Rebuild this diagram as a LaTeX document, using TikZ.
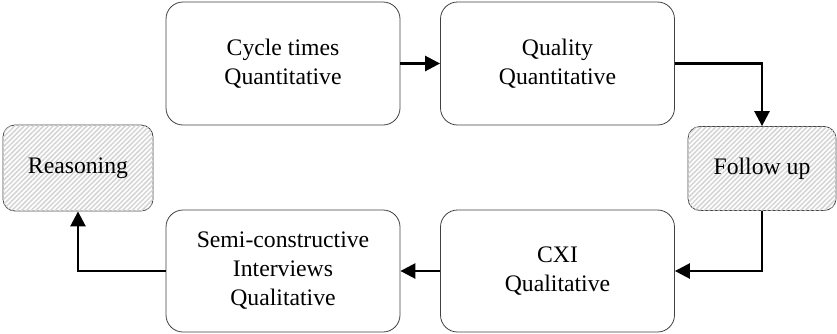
\documentclass[tikz,border=0pt]{standalone}
\usepackage{fontspec}
\setmainfont{Liberation Serif}
\usetikzlibrary{arrows.meta,patterns.meta}
\begin{document}
\begin{tikzpicture}[x=1pt,y=-1pt,
  stage/.style={draw=black!75, line width=0.8pt, rounded corners=17pt,
    minimum width=234pt, minimum height=123pt, inner sep=0pt,
    align=center, font=\fontsize{23.7}{29}\selectfont},
  hatchbox/.style={draw=black!75, line width=0.8pt, rounded corners=12pt,
    fill=white,
    postaction={pattern={Lines[angle=45,distance=3.4pt,line width=1.5pt]},
      pattern color=black!17},
    inner sep=0pt, align=center, font=\fontsize{23.7}{29}\selectfont},
  flow/.style={line width=2.6pt, -{Triangle[length=15pt,width=15pt]}}]
\useasboundingbox (0,0) rectangle (837,333);

% top row
\node[stage] (cycle) at (283,63.5) {Cycle times\\Quantitative};
\node[stage] (quality) at (557.5,63.5) {Quality\\Quantitative};
% side boxes
\node[hatchbox, minimum width=148pt, minimum height=84pt] (follow) at (762,168.5) {Follow up};
\node[hatchbox, minimum width=150pt, minimum height=86pt] (reason) at (78,168) {Reasoning};
% bottom row
\node[stage, minimum height=122pt] (cxi) at (557.5,271) {CXI\\Qualitative};
\node[stage, minimum height=122pt] (semi) at (283,271) {Semi-constructive\\Interviews\\Qualitative};

% connectors
\draw[flow] (cycle) -- (quality);
\draw[flow] (quality.east) -| (follow.north);
\draw[flow] (follow.south) |- (cxi.east);
\draw[flow] (cxi) -- (semi);
\draw[flow] (semi.west) -| (reason.south);
\end{tikzpicture}
\end{document}
